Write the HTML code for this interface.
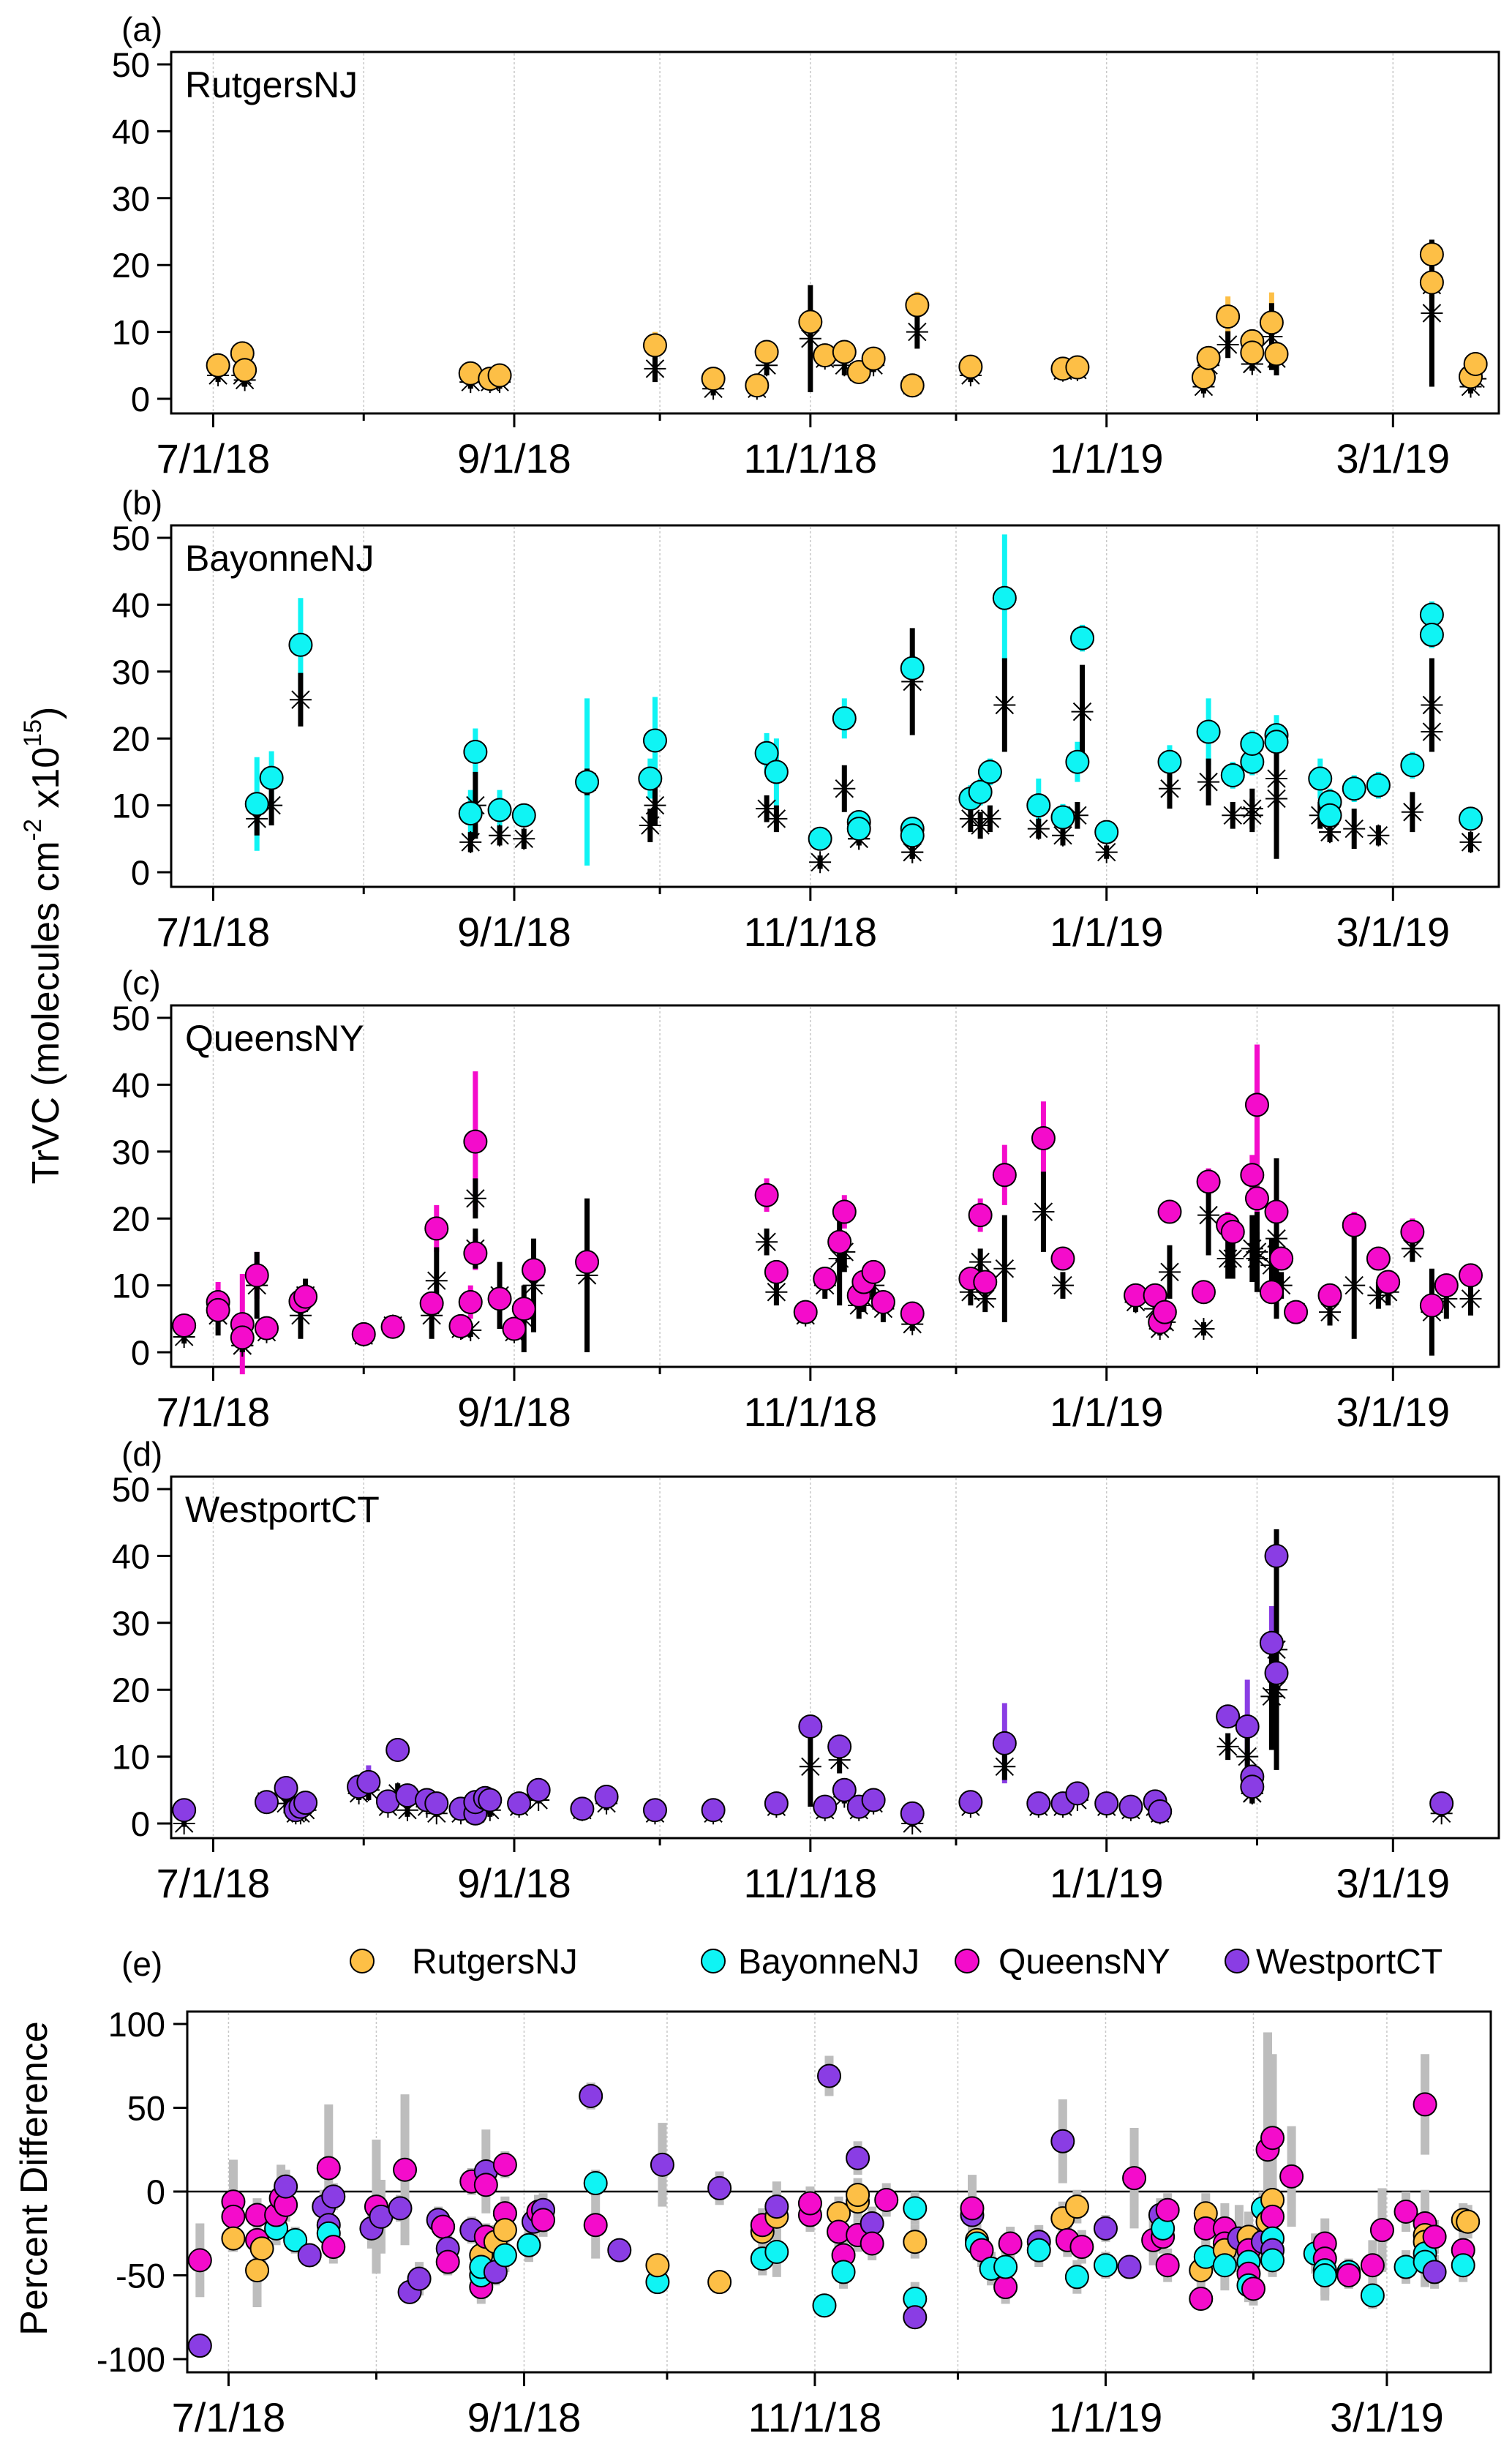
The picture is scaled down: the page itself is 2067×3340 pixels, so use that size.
<!DOCTYPE html>
<html><head><meta charset="utf-8"><style>
html,body{margin:0;padding:0;background:#fff}
svg{display:block;font-family:"Liberation Sans",sans-serif}
</style></head><body>
<svg id="fig" xmlns="http://www.w3.org/2000/svg" width="2067" height="3340" viewBox="0 0 2067 3340">
<rect width="2067" height="3340" fill="#fff"/>
<text transform="translate(80,1292) rotate(-90)" text-anchor="middle" font-size="52">TrVC (molecules cm<tspan font-size="34" dy="-24">-2</tspan><tspan dy="24"> x10</tspan><tspan font-size="34" dy="-24">15</tspan><tspan dy="24">)</tspan></text>
<text transform="translate(64,2977) rotate(-90)" text-anchor="middle" font-size="52">Percent Difference</text>
</svg>
<script>
// ---- data ----
const monthDays = [0,31,62,92,123,153,184,215,243];
const monthLabels = ["7/1/18","","9/1/18","","11/1/18","","1/1/19","","3/1/19"];
const yTicks = [0,10,20,30,40,50];
const eTicks = [-100,-50,0,50,100];
const siteNames = ["RutgersNJ","BayonneNJ","QueensNY","WestportCT"];
const siteColors = ["#FDBF46","#0FF4F4","#F40CCB","#8A3DE4"];
const panelLetters = ["(a)","(b)","(c)","(d)"];

const aDays = [1,6,6.5,53,57,59,91,103,112,114,123,126,130,133,136,144,145,156,175,178,204,205,209,214,214,218,219,251,251,259,260];
const aCirc = [5,6.8,4.3,3.8,3,3.5,8,3,2,7,11.5,6.5,7,4,6,2,14,4.8,4.5,4.7,3.2,6.1,12.3,8.6,6.9,11.4,6.7,21.6,17.4,3.3,5.2];
const aCErr = [1,1,1,1,1,1,2,1,1,1.5,2,1,1,1,1,1,2,1,1,1,1,1,3,1,1,4.5,1,2,3,1,1];
const aStar = [3.5,3.5,2.8,2.5,2.5,2.5,4.5,1.5,1.5,5,9,6,5,4,5,2,10,3.5,4.2,4.3,1.8,5,8.1,5.2,5.2,9.3,6,12.8,17,1.8,3];
const aSErr = [1,1,1,1,1,1,2,1,1,1.5,8,1,1.5,1,1,1,2.5,1,1,1,1,1,2,1,1,5,2.5,11,2,1,1];

const bDays = [9,12,18,53,54,59,64,77,90,91,114,116,125,130,133,133,144,144,144,156,158,160,163,170,175,178,179,184,197,205,210,214,214,219,219,228,230,230,235,240,247,251,251,259];
const bCirc = [10.2,14.1,34,8.8,18,9.3,8.5,13.5,14,19.7,17.8,15,5,23,7.5,6.5,30.5,6.5,5.5,11,12,15,41,10,8.2,16.5,35,6,16.5,21,14.5,16.5,19.2,20.5,19.5,14,10.5,8.5,12.5,13,16,38.5,35.5,8];
const bCErr = [7,4,7,3.5,3.5,3,1.5,12.5,3,6.5,3,5,1,3,1,1,2,1,1,2,2,2,9.5,4,2,3,2,1,2.5,5,2,2,2,3,3,3,2,2,2,2,2,2,2,1.5];
const bStar = [8,10,25.8,4.5,10,5.5,5,13.5,7,10,9.5,8,1.5,12.5,5,5,28.5,3,3,8,7,8,25,6.5,5.5,8.5,24,3,12.5,13.5,8.5,8.5,9.5,14,11,8.5,6,6,6.5,5.5,9,25,21,4.5];
const bSErr = [2.5,3,4,1.5,5,1.5,1.5,2,2.5,3,2,2,1,3.5,1,1,8,1,1,2,2,2,7,1.5,1.5,2,7,1,3,3.5,2,2.5,3,8,9,2,1.5,1.5,3,1.5,3,7,3,1.5];

const cDays = [-6,1,1,6,6,9,11,18,19,31,37,45,46,51,53,54,54,59,62,64,66,77,114,116,122,126,129,130,133,134,136,138,144,156,158,159,163,171,175,190,194,195,196,197,204,205,209,210,214,215,215,218,219,220,223,230,235,240,242,247,251,254,259];
const cCirc = [4,7.5,6.3,4.2,2.2,11.5,3.6,7.6,8.3,2.7,3.8,7.3,18.5,3.9,7.5,31.5,14.8,8,3.5,6.5,12.3,13.5,23.5,12,6,11,16.5,21,8.5,10.5,12,7.5,5.8,11,20.5,10.5,26.5,32,14,8.5,8.5,4.5,6,21,9,25.5,19,18,26.5,23,37,9,21,14,6,8.5,19,14,10.5,18,7,10,11.5];
const cCErr = [1.5,3,1,7.5,1,3.5,1,1.5,1.5,0.5,0.5,1,3.5,0.5,2.5,10.5,2.5,1.5,0.5,1,1.5,1,2.5,1.5,1,1.5,2,2.5,1.5,1.5,1.5,1.5,1,1.5,2.5,1.5,4.5,5.5,1.5,1.5,1.5,1,1.5,1.5,1,2,2,1.5,3,2,9,1.5,4,1.5,1,1.5,2,1.5,1.5,2,1.5,1.5,1.5];
const cStar = [2.3,5.5,5.5,1,1,10,3,5.5,8.5,2.5,4,5.5,10.7,3.5,3.3,23,15.5,8.5,3,5,10,11.5,16.5,9,5.5,10,14,15,7,8,10,6.5,4.2,9,13.5,8,12.5,21,10,7.5,6.5,3.5,4.5,12,3.5,20.5,14,14,15.5,14,15,13,17,10,6,6,10,8.5,9,15.5,6,8,8];
const cSErr = [1,3,1,1,1,5,1,3.5,2.5,0.5,1,3.5,5,1,1,3,3,5,1,5,7,11.5,2,2,1,2,7,3,2,2,2,2,1,2,2,2,8,6,2,1.5,1.5,1,1.5,4,1,6,3,3,5,4,6,4,12,2,1,2,8,2,2,2,6.5,3,2.5];

const dDays = [-6,11,15,17,18,19,30,32,36,38,40,44,46,51,54,54,56,57,63,67,76,81,91,103,116,123,126,129,130,133,136,144,156,163,170,175,178,184,189,194,195,209,213,214,214,218,219,219,253];
const dCirc = [2,3.2,5.3,2,2.5,3.1,5.5,6.2,3.3,11,4.2,3.5,3,2.2,1.5,3.2,3.8,3.5,3,5,2.2,4,2,2,3,14.5,2.5,11.5,5,2.5,3.5,1.5,3.2,12,3,3,4.5,3,2.5,3.3,1.8,16,14.5,7,5.5,27,40,22.5,3];
const dCErr = [0.5,0.5,0.5,0.5,0.5,0.5,0.5,2.5,0.5,1.5,0.5,0.5,0.5,0.5,0.5,0.5,0.5,0.5,0.5,0.5,0.5,0.5,0.5,0.5,0.5,1,0.5,1,0.5,0.5,0.5,0.5,0.5,6,0.5,0.5,0.5,0.5,0.5,0.5,0.5,1.5,7,1,1,5.5,1,2,0.5];
const dStar = [0,3.3,3,1.5,1.5,2,4.5,5,2.5,4.5,2,2.5,1.5,1.5,1.5,2.5,2.5,2,2.5,3.5,2,3,1.5,1.5,2.5,8.5,2,9.5,4,2,3,0,2.5,8.5,2.5,2.5,3.5,2.5,2,2.5,1.5,11.5,10,4.5,4.5,19,26,20,1.5];
const dSErr = [0.5,1,1.5,0.5,0.5,0.5,1,1.5,0.5,1.5,1,0.5,0.5,0.5,0.5,1,1,1,0.5,0.5,0.5,1,0.5,0.5,0.5,6,0.5,2,1,0.5,0.5,0.5,0.5,2,0.5,0.5,0.5,0.5,0.5,0.5,0.5,2,3,1.5,1.5,8,18,5,0.5];

const eDay = [-6,-6,1,1,1,6,6,6,7,10,10,11,12,12,14,17,20,21,21,21,22,22,30,31,32,36,37,38,40,44,45,46,46,51,51,53,53,53,53,54,54,54,56,56,58,58,58,58,58,63,64,65,66,66,76,77,77,82,90,90,91,103,103,112,112,112,115,115,115,122,122,125,126,128,128,129,129,132,132,132,132,135,135,138,144,144,144,144,156,156,157,157,158,160,163,163,164,170,170,175,175,176,178,178,179,184,184,189,190,194,195.5,196,196,197,197,204,204,205,205,205,209,209,209,209,212,214,214,214,214,214,215,217,217,218,218,219,219,219,219,219,219,223,228,230,230,230,230,235,235,240,240,242,247,247,251,251,251,251,251,251,253,253,259,259,259,260];
const eVal = [-41,-92,-6,-15,-28,-14,-29,-47,-34,-22,-14,-4,-8,3,-29,-38,-9,14,-20,-25,-33,-3,-22,-9,-15,-10,13,-60,-52,-17,-21,-34,-42,6,-23,-38,-57,-50,-45,12,4,-27,-48,-30,-13,-13,16,-38,-23,-32,-18,-12,-11,-17,57,-20,5,-35,-54,-44,16,2,-54,-24,-40,-20,-36,-15,-9,-14,-7,-68,69,-13,-24,-38,-48,20,-6,-26,-2,-19,-31,-5,-64,-75,-10,-30,-14,-10,-29,-31,-35,-46,-57,-45,-31,-30,-35,30,-16,-29,-9,-51,-33,-22,-44,-45,8,-29,-14,-27,-22,-11,-44,-47,-64,-13,-22,-39,-22,-31,-35,-44,-28,-27,-35,-42,-49,-56,-58,-30,-10,25,-18,32,-5,-15,-28,-35,-41,9,-37,-31,-40,-47,-50,-48,-50,-44,-62,-23,-12,-45,52,-19,-26,-30,-37,-42,-48,-27,-17,-35,-44,-18];
const eSite = [2,3, 2,2,0, 2,2,0,0, 1,2, 2,2,3, 1, 3, 3,2,3,1,2,3, 3,2,3, 3,2, 3,3, 3,2,3,2, 2,3, 0,2,1,1, 3,2,2, 3,0, 0,2,2,1,0, 1,3,2,3,2, 3,2,1, 3, 1,0,3, 3,0, 0,1,2, 1,0,3, 2,2, 1,3, 0,2, 2,1, 3,0,2,0, 3,2, 2, 1,3,1,0, 3,2, 0,1, 2,1, 2,1,2, 3,1, 3,0,2, 0,1,2, 3,1, 3,2, 2,3,2,1,2,2, 0,2, 0,2,1, 2,2,0,1, 3, 0,2,1,2,1,2, 3,1, 2,0, 2,0,2,1,3,1, 2, 1, 2,2,1,1, 1,2, 2,1, 2, 2,1, 2,2,0,0,1,1, 3,2, 0,2,1,0];
const eErr = [22,0, 25,8,8, 10,10,22,8, 10,10, 20,10,10, 8, 5, 10,38,10,10,10,8, 12,40,22, 8,45, 5,10, 8,8,8,8, 8,8, 10,10,10,10, 25,8,8, 8,10, 10,10,8,10,10, 10,10,10,10,10, 8,20,8, 5, 5,5,25, 10,5, 10,10,10, 15,15,15, 10,10, 5,12, 10,10, 10,10, 10,10,10,10, 10,10, 10, 10,5,10,10, 20,20, 10,10, 10,10, 10,10,10, 10,10, 25,10,10, 10,10,10, 8,8, 3,30, 15,10,10,10,10,10, 10,5, 12,12,12, 15,15,15,15, 20, 15,20,15,15,10,10, 10,10, 70,10, 50,10,10,10,10,10, 30, 12, 15,15,15,15, 8,8, 15,8, 25, 12,10, 30,20,15,15,15,15, 10,10, 10,15,10,10];

// ---- drawing ----
const NS = "http://www.w3.org/2000/svg";
const svg = document.getElementById("fig");
function el(tag, attrs, parent){
  const e = document.createElementNS(NS, tag);
  for (const k in attrs) e.setAttribute(k, attrs[k]);
  (parent || svg).appendChild(e);
  return e;
}
const D0 = -8.66, D1 = 264.8;

const panels = [
  {top:71, days:aDays, circ:aCirc, cerr:aCErr, star:aStar, serr:aSErr},
  {top:718, days:bDays, circ:bCirc, cerr:bCErr, star:bStar, serr:bSErr},
  {top:1374, days:cDays, circ:cCirc, cerr:cCErr, star:cStar, serr:cSErr},
  {top:2018, days:dDays, circ:dCirc, cerr:dCErr, star:dStar, serr:dSErr}
];

function drawXAxis(g, L, R, bottom, top, xOf, labelY){
  monthDays.forEach((d,i)=>{
    const x = xOf(d);
    const grid = el("line",{x1:x,x2:x,y1:top+2,y2:bottom-2,stroke:"#c8c8c8","stroke-width":1.5,"stroke-dasharray":"3,3"},g);
    
    
    const major = monthLabels[i] !== "";
    const t = el("line",{x1:x,x2:x,y1:bottom,y2:bottom+(major?19:10),stroke:"#000","stroke-width":3},g);
    
    
    if (major){
      const lb = el("text",{x:x,y:labelY,"text-anchor":"middle","font-size":56},g);
      lb.textContent = monthLabels[i];
      
      
    }
  });
}

function drawStar(g, x, y){
  const r = 15;
  const p = `M${x-r},${y}H${x+r}M${x},${y-r}V${y+r}M${x-r*0.8},${y-r*0.8}L${x+r*0.8},${y+r*0.8}M${x-r*0.8},${y+r*0.8}L${x+r*0.8},${y-r*0.8}`;
  const s = el("path",{d:p,stroke:"#000","stroke-width":2,fill:"none"},g);
  
  
}

panels.forEach((P,pi)=>{
  const L=234, R=2049, top=P.top, bottom=top+494;
  const y0 = top+474, y50 = top+17;
  const yOf = v => y0 + (y50-y0)*v/50;
  const xOf = d => L + (R-L)*(d-D0)/(D1-D0);
  const g = el("g",{});
  
  
  drawXAxis(g, L, R, bottom, top, xOf, bottom+81);
  const frame = el("rect",{x:L,y:top,width:R-L,height:bottom-top,fill:"none",stroke:"#000","stroke-width":3},g);
  
  
  yTicks.forEach(v=>{
    const y=yOf(v);
    const t = el("line",{x1:L-19,x2:L,y1:y,y2:y,stroke:"#000","stroke-width":3},g);
    
    
    const lb = el("text",{x:205,y:y+17,"text-anchor":"end","font-size":47},g);
    lb.textContent = v;
    
    
  });
  const pl = el("text",{x:166,y:top-15,"font-size":46},g);
  pl.textContent = panelLetters[pi];
  
  
  const sn = el("text",{x:253,y:top+62,"font-size":50},g);
  sn.textContent = siteNames[pi];
  
  
  const col = siteColors[pi];
  const n = P.days.length;
  for (let i=0;i<n;i++){
    const x = xOf(P.days[i]);
    const cb = el("line",{x1:x,x2:x,y1:yOf(P.circ[i]-P.cerr[i]),y2:yOf(P.circ[i]+P.cerr[i]),stroke:col,"stroke-width":7},g);
    
    
  }
  for (let i=0;i<n;i++){
    const x = xOf(P.days[i]);
    const sb = el("line",{x1:x,x2:x,y1:yOf(P.star[i]-P.serr[i]),y2:yOf(P.star[i]+P.serr[i]),stroke:"#000","stroke-width":7},g);
    
    
    drawStar(g, x, yOf(P.star[i]));
  }
  for (let i=0;i<n;i++){
    const c = el("circle",{cx:xOf(P.days[i]),cy:yOf(P.circ[i]),r:15.5,fill:col,stroke:"#000","stroke-width":2},g);
    
    
  }
});

// ---- panel e ----
(function(){
  const L=256, R=2038, top=2749, bottom=3242;
  const yOf = v => 2995 - 2.29*v;
  const xOf = d => L + (R-L)*(d-D0)/(D1-D0);
  const g = el("g",{});
  
  
  drawXAxis(g, L, R, bottom, top, xOf, 3323);
  const zl = el("line",{x1:L,x2:R,y1:yOf(0),y2:yOf(0),stroke:"#000","stroke-width":2.5},g);
  
  
  const frame = el("rect",{x:L,y:top,width:R-L,height:bottom-top,fill:"none",stroke:"#000","stroke-width":3},g);
  
  
  eTicks.forEach(v=>{
    const y=yOf(v);
    const t = el("line",{x1:L-19,x2:L,y1:y,y2:y,stroke:"#000","stroke-width":3},g);
    
    
    const lb = el("text",{x:226,y:y+17,"text-anchor":"end","font-size":47},g);
    lb.textContent = v;
    
    
  });
  const pl = el("text",{x:166,y:2700,"font-size":46},g);
  pl.textContent = "(e)";
  
  
  const legX = [495,975,1322,1691];
  const legTX = [563,1009,1365,1717];
  siteNames.forEach((s,i)=>{
    const c = el("circle",{cx:legX[i],cy:2680,r:16,fill:siteColors[i],stroke:"#000","stroke-width":2},g);
    
    
    const t = el("text",{x:legTX[i],y:2697,"font-size":48},g);
    t.textContent = s;
    
    
  });
  const n = eDay.length;
  for (let i=0;i<n;i++){
    if (!eErr[i]) continue;
    const x = xOf(eDay[i]);
    const y1 = Math.max(top+2, yOf(eVal[i]+eErr[i])), y2 = Math.min(bottom-2, yOf(eVal[i]-eErr[i]));
    const b = el("rect",{x:x-6,y:y1,width:12,height:y2-y1,fill:"#bdbdbd"},g);
    
    
  }
  for (let i=0;i<n;i++){
    const c = el("circle",{cx:xOf(eDay[i]),cy:yOf(eVal[i]),r:15.5,fill:siteColors[eSite[i]],stroke:"#000","stroke-width":2},g);
    
    
  }
})();
</script>
</body></html>
